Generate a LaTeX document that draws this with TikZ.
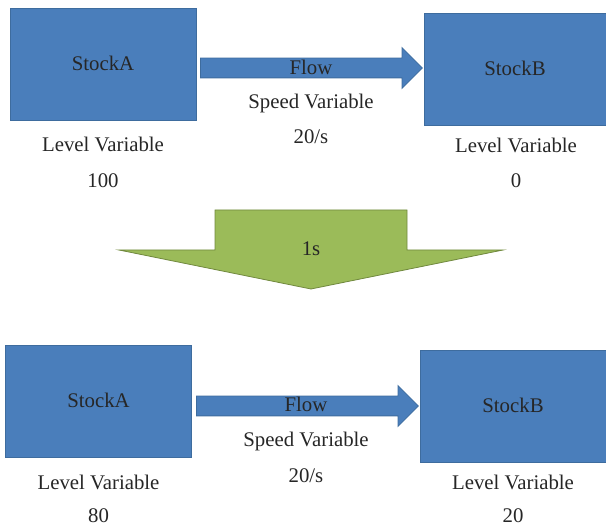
\documentclass[tikz,border=0pt]{standalone}
\usepackage{fontspec}
\setmainfont{Liberation Serif}
\usepackage{tikz}
\usetikzlibrary{shapes.arrows, positioning}
\usepackage{xcolor}
\definecolor{stockblue}{RGB}{74, 126, 187}
\definecolor{stockedge}{RGB}{62, 108, 158}
\definecolor{stepgreen}{RGB}{155, 187, 89}
\definecolor{stepedge}{RGB}{113, 137, 63}

\tikzset{
  txt/.style={font=\fontsize{20.8}{25}\selectfont, text=black!85, inner sep=0pt, text height=13pt, text depth=0pt},
  stock/.style={txt, draw=stockedge, fill=stockblue, line width=0.8pt, minimum height=112pt},
  flowarrow/.style={single arrow, draw=stockedge, fill=stockblue, line width=0.8pt,
    minimum height=222pt, minimum width=40pt, single arrow head extend=10.5pt,
    inner sep=9.5pt, text height=0pt, text depth=0pt, anchor=tail}
}

\begin{document}
\begin{tikzpicture}[x=1pt, y=-1pt]
  \useasboundingbox (0,0) rectangle (606,526);

  % Before: StockA -> StockB
  \node[stock, minimum width=186pt] (stockA1) at (103,64) {StockA};
  \node[stock, minimum width=182pt] (stockB1) at (515,69) {StockB};
  \node[flowarrow] (flow1) at (200,68) {};
  \node[txt] (flowlbl1) at (311,68) {Flow};
  \node[txt] (speed1) at (311,102) {Speed Variable};
  \node[txt] (rate1) at (311,137) {20/s};
  \node[txt] (levelA1) at (103,145) {Level Variable};
  \node[txt] (levelB1) at (516,146) {Level Variable};
  \node[txt] (valA1) at (103,181) {100};
  \node[txt] (valB1) at (516,181) {0};

  % Time step (1s)
  \fill[stepgreen] (215,210) -- (407,210) -- (407,250) -- (503,250) -- (311,289) -- (119,250) -- (215,250) -- cycle;
  \draw[stepedge, line width=0.8pt] (215,210) -- (407,210) -- (407,250) -- (503,250) -- (311,289) -- (119,250) -- (215,250) -- cycle;
  \node[txt] (step) at (311,249) {1s};

  % After: StockA -> StockB
  \node[stock, minimum width=186pt] (stockA2) at (98.5,401) {StockA};
  \node[stock, minimum width=186pt] (stockB2) at (513,406) {StockB};
  \node[flowarrow] (flow2) at (196,406) {};
  \node[txt] (flowlbl2) at (306,405) {Flow};
  \node[txt] (speed2) at (306,440) {Speed Variable};
  \node[txt] (rate2) at (306,476) {20/s};
  \node[txt] (levelA2) at (98.5,483) {Level Variable};
  \node[txt] (levelB2) at (513,483) {Level Variable};
  \node[txt] (valA2) at (98.5,516) {80};
  \node[txt] (valB2) at (513,516) {20};
\end{tikzpicture}
\end{document}
